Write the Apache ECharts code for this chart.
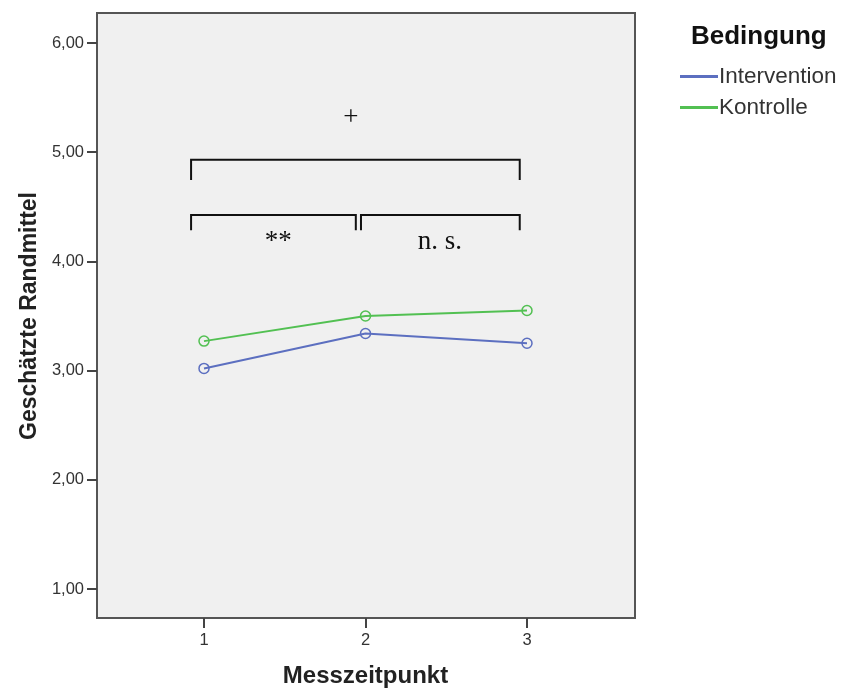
<!DOCTYPE html>
<html>
<head>
<meta charset="utf-8">
<script src="https://cdn.jsdelivr.net/npm/echarts@6/dist/echarts.min.js"></script>
<style>
  html, body { margin: 0; padding: 0; background: #fff; }
  #chart { width: 842px; height: 689px; }
</style>
</head>
<body>
<div id="chart"></div>
<script>
// Measurement points and estimated marginal means per condition
const timepoints = [1, 2, 3];
const intervention = [3.02, 3.34, 3.25];
const kontrolle = [3.27, 3.50, 3.55];
const yTicks = [1, 2, 3, 4, 5, 6];

// Significance brackets: [xStart, xEnd, yBar, yEnd] in data units
const brackets = [
  [0.92, 2.955, 4.93, 4.745],
  [0.92, 1.94, 4.425, 4.285],
  [1.972, 2.955, 4.425, 4.285]
];
// Significance annotations: [x, y, text]
const annotations = [
  [1.91, 5.31, '+'],
  [1.46, 4.18, '**'],
  [2.46, 4.18, 'n. s.']
];

const BLUE = '#5c6fc0';
const GREEN = '#52c052';
const SANS = 'Arial, "Liberation Sans", sans-serif';
const SERIF = '"Times New Roman", "Liberation Serif", serif';

function conditionSeries(name, values, color) {
  return {
    name: name,
    type: 'line',
    data: timepoints.map((t, i) => [t, values[i]]),
    color: color,
    symbol: 'circle',
    symbolSize: 10,
    z: 4,
    itemStyle: { color: 'rgba(0,0,0,0)', borderColor: color, borderWidth: 1.5 },
    lineStyle: { color: color, width: 2 }
  };
}

const chart = echarts.init(document.getElementById('chart'), null, { renderer: 'canvas' });

chart.setOption({
  animation: false,
  backgroundColor: '#fff',
  title: {
    text: 'Bedingung',
    left: 686,
    top: 19,
    textStyle: { fontFamily: SANS, fontSize: 26, fontWeight: 'bold', color: '#111' }
  },
  legend: {
    data: [
      { name: 'Intervention', itemStyle: { color: BLUE, borderWidth: 0 } },
      { name: 'Kontrolle', itemStyle: { color: GREEN, borderWidth: 0 } }
    ],
    orient: 'vertical',
    left: 675,
    top: 60,
    itemWidth: 38,
    itemHeight: 3,
    itemGap: 8,
    icon: 'rect',
    textStyle: { fontFamily: SANS, fontSize: 22.5, color: '#333', padding: [0, 0, 0, -4] }
  },
  graphic: [{
    id: 'frame',
    type: 'rect',
    z: 0,
    shape: { x: 97, y: 13, width: 538, height: 605 },
    style: { fill: '#f0f0f0', stroke: '#555', lineWidth: 2 }
  }],
  grid: { left: 204, right: 315, top: 43, bottom: 100, outerBoundsMode: 'none' },
  xAxis: {
    type: 'value',
    min: 1,
    max: 3,
    interval: 1,
    offset: 29,
    axisLine: { show: false },
    axisTick: { show: true, length: 10, lineStyle: { color: '#444', width: 2 } },
    splitLine: { show: false },
    axisLabel: { fontFamily: SANS, fontSize: 16.5, color: '#333', margin: 14 },
    name: 'Messzeitpunkt',
    nameLocation: 'middle',
    nameGap: 46,
    nameTextStyle: { fontFamily: SANS, fontSize: 24, fontWeight: 'bold', color: '#222' }
  },
  yAxis: {
    type: 'value',
    min: yTicks[0],
    max: yTicks[yTicks.length - 1],
    interval: 1,
    offset: 107,
    axisLine: { show: false },
    axisTick: { show: true, length: 10, lineStyle: { color: '#444', width: 2 } },
    splitLine: { show: false },
    axisLabel: {
      fontFamily: SANS, fontSize: 16.5, color: '#333', margin: 13,
      formatter: v => v.toFixed(2).replace('.', ',')
    },
    name: 'Geschätzte Randmittel',
    nameLocation: 'middle',
    nameGap: 56,
    nameTextStyle: { fontFamily: SANS, fontSize: 23, fontWeight: 'bold', color: '#222' }
  },
  series: [
    conditionSeries('Intervention', intervention, BLUE),
    conditionSeries('Kontrolle', kontrolle, GREEN)
  ]
});

// Brackets and significance markers, positioned through the grid's scales
const toPx = (x, y) => chart.convertToPixel({ gridIndex: 0 }, [x, y]);
const extras = brackets.map((b, i) => ({
  id: 'bracket' + i,
  type: 'polyline',
  z: 3,
  shape: { points: [toPx(b[0], b[3]), toPx(b[0], b[2]), toPx(b[1], b[2]), toPx(b[1], b[3])] },
  style: { stroke: '#111', lineWidth: 2, fill: null }
})).concat(annotations.map((a, i) => {
  const p = toPx(a[0], a[1]);
  return {
    id: 'note' + i,
    type: 'text',
    z: 5,
    x: p[0],
    y: p[1],
    style: {
      text: a[2],
      fontFamily: SERIF,
      fontSize: 27,
      fill: '#111',
      align: 'center',
      verticalAlign: 'middle'
    }
  };
}));
chart.setOption({ graphic: extras });
</script>
</body>
</html>
